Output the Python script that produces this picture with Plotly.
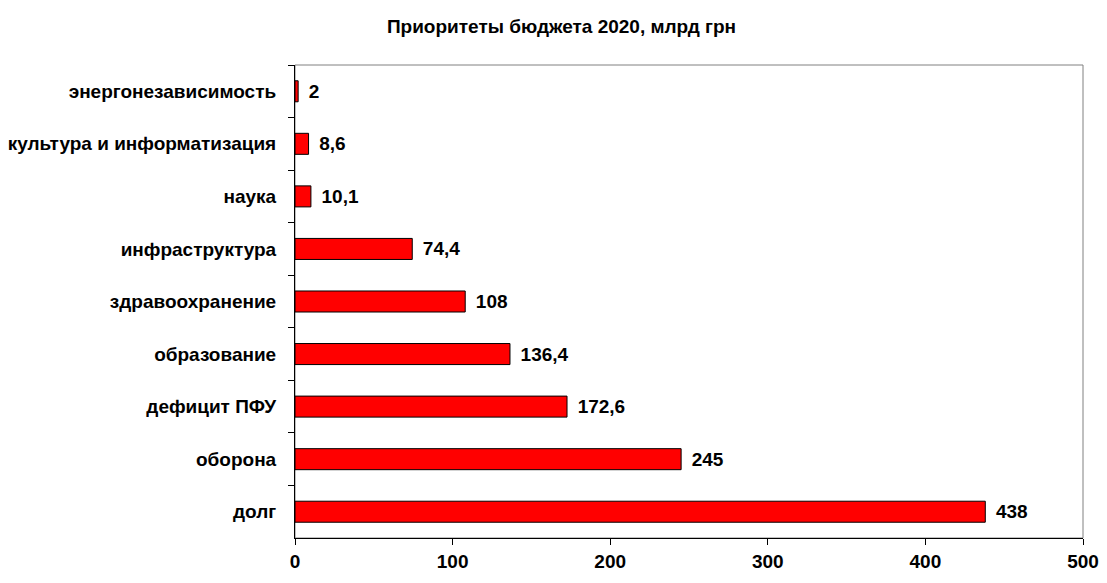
import plotly.graph_objects as go

categories = ["энергонезависимость", "культура и информатизация", "наука", "инфраструктура",
              "здравоохранение", "образование", "дефицит ПФУ", "оборона", "долг"]
values = [2, 8.6, 10.1, 74.4, 108, 136.4, 172.6, 245, 438]
value_labels = ["2", "8,6", "10,1", "74,4", "108", "136,4", "172,6", "245", "438"]
x_ticks = [0, 100, 200, 300, 400, 500]

FONT = "Liberation Sans"

fig = go.Figure()
fig.add_trace(go.Bar(
    y=categories, x=values, orientation="h",
    marker=dict(color="#ff0000", line=dict(color="#000000", width=1)),
    text=["\u2009\u2009" + t for t in value_labels],
    textposition="outside", cliponaxis=False,
    textfont=dict(family=FONT, size=19, color="#000000", weight="bold"),
    width=0.4,
))

fig.update_layout(
    width=1107, height=583,
    paper_bgcolor="white", plot_bgcolor="white",
    margin=dict(l=287, r=32, t=57, b=53),
    showlegend=False,
    title=dict(text="<b>Приоритеты бюджета 2020, млрд грн</b>", x=0.5, xanchor="center",
               y=0.969, yanchor="middle",
               font=dict(family=FONT, size=19, color="#000000")),
    font=dict(family=FONT, color="#000000"),
    shapes=[dict(type="rect", xref="paper", yref="paper", x0=0, x1=1, y0=0, y1=1,
                 line=dict(color="#808080", width=1), layer="below")],
)
fig.update_xaxes(
    range=[0, 500], tickvals=x_ticks, ticktext=[str(v) for v in x_ticks],
    showgrid=False, zeroline=False, showline=True, linecolor="#000000", linewidth=1,
    ticks="outside", ticklen=6, tickcolor="#000000", automargin=False,
    tickfont=dict(family=FONT, size=19, color="#000000", weight="bold"),
)
fig.update_yaxes(
    autorange="reversed", showgrid=False, showline=True, linecolor="#000000", linewidth=1,
    ticks="outside", ticklen=6, tickcolor="#000000", tickson="boundaries",
    tickfont=dict(family=FONT, size=19, color="#000000", weight="bold"),
    ticklabelstandoff=14, automargin=False,
)
fig.write_html("out.html")
